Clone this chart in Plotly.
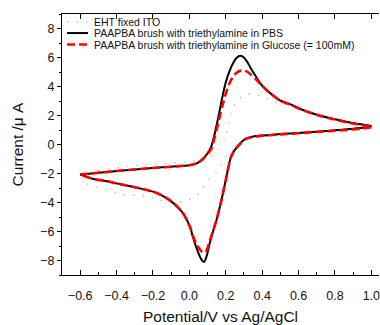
import plotly.graph_objects as go

# Cyclic voltammograms: potential (V vs Ag/AgCl) and current (uA).
# Each curve is stored as a forward (anodic) and a reverse (cathodic) branch.

# EHT fixed ITO
eht_fwd_v = [-0.6, -0.5, -0.4, -0.3, -0.2, -0.1, 0.0, 0.05, 0.10, 0.15, 0.19, 0.21, 0.23, 0.26, 0.30, 0.35, 0.40, 0.50, 0.60, 0.70, 0.80, 0.90, 1.0]
eht_fwd_i = [-2.1, -1.8, -1.6, -1.45, -1.35, -1.28, -1.2, -1.1, -0.9, -0.5, 0.2, 1.1, 2.2, 3.0, 3.4, 3.5, 3.3, 2.85, 2.45, 2.15, 1.85, 1.55, 1.3]
eht_rev_v = [1.0, 0.9, 0.8, 0.7, 0.6, 0.5, 0.4, 0.33, 0.28, 0.24, 0.205, 0.15, 0.10, 0.057, 0.0, -0.1, -0.17, -0.23, -0.33, -0.39, -0.45, -0.51, -0.57, -0.6]
eht_rev_i = [1.3, 1.1, 0.95, 0.85, 0.75, 0.65, 0.55, 0.4, 0.1, -0.3, -0.75, -1.9, -2.5, -3.3, -3.8, -4.0, -3.8, -3.55, -3.5, -3.4, -3.2, -2.95, -2.7, -2.1]

# PAAPBA brush with triethylamine in PBS
pbs_fwd_v = [-0.6, -0.5, -0.4, -0.3, -0.2, -0.1, 0.0, 0.04, 0.07, 0.10, 0.12, 0.14, 0.16, 0.18, 0.20, 0.22, 0.24, 0.26, 0.28, 0.30, 0.32, 0.34, 0.37, 0.40, 0.44, 0.50, 0.55, 0.62, 0.715, 0.80, 0.88, 0.95, 1.0]
pbs_fwd_i = [-2.08, -1.95, -1.83, -1.72, -1.62, -1.53, -1.43, -1.3, -1.05, -0.6, -0.15, 0.8, 1.95, 3.2, 4.3, 5.05, 5.6, 5.98, 6.12, 6.0, 5.65, 5.2, 4.6, 4.06, 3.58, 3.02, 2.8, 2.4, 2.0, 1.74, 1.52, 1.38, 1.28]
pbs_rev_v = [1.0, 0.95, 0.88, 0.80, 0.715, 0.60, 0.50, 0.44, 0.38, 0.34, 0.31, 0.285, 0.26, 0.23, 0.203, 0.176, 0.149, 0.125, 0.112, 0.095, 0.081, 0.065, 0.05, 0.039, 0.02, 0.003, -0.034, -0.07, -0.107, -0.16, -0.2, -0.3, -0.344, -0.4, -0.46, -0.527, -0.6]
pbs_rev_i = [1.28, 1.15, 1.07, 0.98, 0.9, 0.8, 0.72, 0.66, 0.6, 0.52, 0.4, 0.15, -0.2, -0.8, -2.27, -3.85, -5.2, -6.2, -6.8, -7.7, -8.1, -7.9, -7.5, -7.14, -6.4, -5.67, -4.76, -4.25, -3.85, -3.45, -3.25, -2.95, -2.83, -2.68, -2.52, -2.38, -2.08]

# PAAPBA brush with triethylamine in Glucose (= 100mM)
glu_fwd_v = [-0.6, -0.5, -0.4, -0.3, -0.2, -0.1, 0.0, 0.04, 0.07, 0.10, 0.12, 0.14, 0.16, 0.18, 0.20, 0.22, 0.24, 0.26, 0.28, 0.30, 0.32, 0.34, 0.37, 0.40, 0.44, 0.50, 0.55, 0.62, 0.715, 0.80, 0.88, 0.95, 1.0]
glu_fwd_i = [-2.08, -1.95, -1.83, -1.72, -1.62, -1.53, -1.43, -1.3, -1.05, -0.65, -0.3, 0.55, 1.55, 2.6, 3.5, 4.2, 4.68, 4.95, 5.08, 5.1, 5.0, 4.8, 4.45, 4.05, 3.58, 3.02, 2.78, 2.38, 1.98, 1.72, 1.5, 1.34, 1.2]
glu_rev_v = [1.0, 0.95, 0.88, 0.80, 0.715, 0.60, 0.50, 0.44, 0.38, 0.34, 0.31, 0.285, 0.26, 0.23, 0.203, 0.176, 0.149, 0.125, 0.112, 0.098, 0.086, 0.07, 0.055, 0.039, 0.02, 0.003, -0.034, -0.07, -0.107, -0.16, -0.2, -0.3, -0.344, -0.4, -0.46, -0.527, -0.6]
glu_rev_i = [1.2, 1.1, 1.02, 0.95, 0.88, 0.78, 0.7, 0.64, 0.58, 0.5, 0.38, 0.12, -0.22, -0.82, -2.27, -3.85, -5.2, -6.15, -6.65, -7.2, -7.45, -7.4, -7.2, -6.9, -6.3, -5.67, -4.76, -4.25, -3.85, -3.45, -3.25, -2.95, -2.83, -2.68, -2.52, -2.38, -2.08]

names = [
    "EHT fixed ITO",
    "PAAPBA brush with triethylamine in PBS",
    "PAAPBA brush with triethylamine in Glucose (= 100mM)",
]

x_tick_vals = [-0.6, -0.4, -0.2, 0.0, 0.2, 0.4, 0.6, 0.8, 1.0]
x_tick_text = ["\u22120.6", "\u22120.4", "\u22120.2", "0.0", "0.2", "0.4", "0.6", "0.8", "1.0"]
y_tick_vals = [-8, -6, -4, -2, 0, 2, 4, 6, 8]
y_tick_text = ["\u22128", "\u22126", "\u22124", "\u22122", "0", "2", "4", "6", "8"]

FONT = "Liberation Sans, Arial, sans-serif"


def loop(fv, fi, rv, ri):
    # join both branches with a gap so each one is smoothed on its own
    return fv + [None] + rv, fi + [None] + ri


fig = go.Figure()

styles = [
    dict(color="#b8b8b8", width=1.2, dash="1.5px,8px"),
    dict(color="#000000", width=2, dash="solid"),
    dict(color="#ff0000", width=2.6, dash="8px,4px"),
]
curves = [
    loop(eht_fwd_v, eht_fwd_i, eht_rev_v, eht_rev_i),
    loop(pbs_fwd_v, pbs_fwd_i, pbs_rev_v, pbs_rev_i),
    loop(glu_fwd_v, glu_fwd_i, glu_rev_v, glu_rev_i),
]
for (vx, iy), name, st in zip(curves, names, styles):
    fig.add_trace(go.Scatter(
        x=vx, y=iy, mode="lines", name=name, connectgaps=False,
        showlegend=False,
        line=dict(shape="spline", smoothing=0.8, **st),
    ))

# top frame with inward ticks
fig.add_trace(go.Scatter(x=[None], y=[None], xaxis="x2", showlegend=False))

# compact legend in the upper-left corner of the plot area
legend_y = [0.970, 0.927, 0.883]
for name, st, ly in zip(names, styles, legend_y):
    fig.add_shape(type="line", xref="paper", yref="paper",
                  x0=0.016, x1=0.082, y0=ly, y1=ly,
                  line=dict(color=st["color"], width=st["width"], dash=st["dash"]))
    fig.add_annotation(x=0.094, y=ly, xref="paper", yref="paper",
                       text=name, showarrow=False, xanchor="left", yanchor="middle",
                       font=dict(size=10.5, family=FONT, color="#111111"))

xr = [-0.7, 1.042]
yr = [-9, 9]

fig.update_layout(
    width=380, height=325,
    margin=dict(l=62, r=0, t=14, b=46),
    paper_bgcolor="white", plot_bgcolor="white",
    font=dict(family=FONT, size=12, color="#111111"),
    showlegend=False,
    xaxis=dict(
        range=xr, showgrid=False, zeroline=False,
        showline=True, linecolor="black", linewidth=1.3,
        ticks="inside", ticklen=5, tickcolor="black",
        tickvals=x_tick_vals, ticktext=x_tick_text,
        ticklabeloverflow="allow", ticklabelstandoff=9,
        minor=dict(dtick=0.1, tick0=0, ticks="inside", ticklen=3, tickcolor="black"),
        tickfont=dict(size=12.5),
        title=dict(text="Potential/V vs Ag/AgCl", font=dict(size=15.5), standoff=11),
    ),
    xaxis2=dict(
        range=xr, overlaying="x", side="top", showgrid=False, zeroline=False,
        showline=True, linecolor="black", linewidth=1.3,
        ticks="inside", ticklen=5, tickcolor="black",
        tickvals=x_tick_vals, showticklabels=False,
    ),
    yaxis=dict(
        range=yr, showgrid=False, zeroline=False,
        showline=True, linecolor="black", linewidth=1.3,
        ticks="outside", ticklen=4, tickcolor="black",
        tickvals=y_tick_vals, ticktext=y_tick_text,
        minor=dict(dtick=1, tick0=0, ticks="outside", ticklen=2, tickcolor="black"),
        tickfont=dict(size=12.5),
        title=dict(text="Current /\u03bc A", font=dict(size=15.5), standoff=12),
    ),
)

fig.write_html("out.html")
